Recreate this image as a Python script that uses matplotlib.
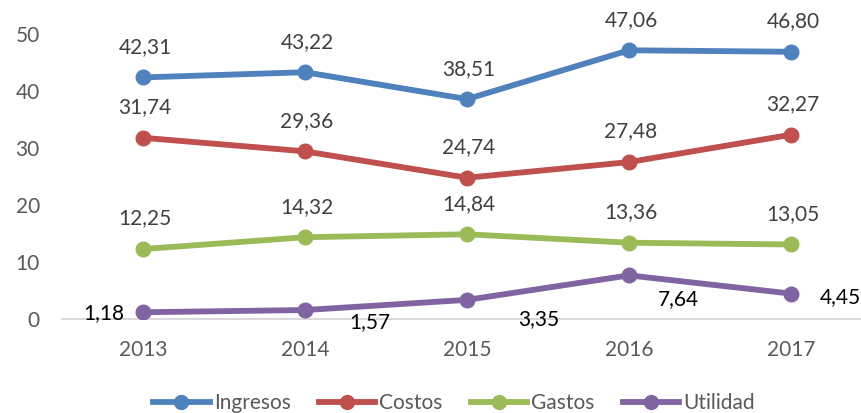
import matplotlib
matplotlib.use("Agg")
import matplotlib.pyplot as plt
from matplotlib.lines import Line2D

plt.rcParams['font.family'] = ['Lato', 'DejaVu Sans']

# ---- data ----
years = ["2013", "2014", "2015", "2016", "2017"]
ingresos = [42.31, 43.22, 38.51, 47.06, 46.80]
costos = [31.74, 29.36, 24.74, 27.48, 32.27]
gastos = [12.25, 14.32, 14.84, 13.36, 13.05]
utilidad = [1.18, 1.57, 3.35, 7.64, 4.45]
series_names = ["Ingresos", "Costos", "Gastos", "Utilidad"]
y_ticks = [0, 10, 20, 30, 40, 50]

# ---- style ----
colors = ["#4F81BD", "#C0504D", "#9BBB59", "#8064A2"]
label_colors = ["#404040", "#404040", "#404040", "#000000"]
# label center offsets in pixels (dx, dy up) for Utilidad labels
util_offsets = [(-39, 1), (65, -11), (72, -18), (49, -22), (49, -2)]

W, H = 862, 413
fig = plt.figure(figsize=(W / 100, H / 100), dpi=100)
ax = fig.add_axes([62 / W, (H - 319) / H, 810 / W, 285.5 / H])

x = list(range(len(years)))
all_series = [ingresos, costos, gastos, utilidad]
for i, (vals, name) in enumerate(zip(all_series, series_names)):
    ax.plot(x, vals, color=colors[i], lw=4.2, marker='o', ms=10.5,
            solid_capstyle='round', solid_joinstyle='round', label=name, zorder=3)
    for j, v in enumerate(vals):
        txt = f"{v:.2f}".replace(".", ",")
        if i < 3:
            dx, dy = 2, 32
        else:
            dx, dy = util_offsets[j]
        ax.annotate(txt, (j, v), xytext=(dx, dy - 7.5), textcoords='offset pixels',
                    ha='center', va='baseline', fontsize=15, color=label_colors[i],
                    zorder=4)

ax.set_xlim(-0.5, len(years) - 0.5)
ax.set_ylim(0, 50)
ax.set_xticks(x)
ax.set_xticklabels(years)
ax.set_yticks(y_ticks)
ax.set_yticklabels([str(t) for t in y_ticks])
ax.tick_params(axis='both', length=0, labelsize=15, labelcolor='#595959')
ax.tick_params(axis='y', pad=16)
ax.tick_params(axis='x', pad=15)
for s in ['top', 'right', 'left']:
    ax.spines[s].set_visible(False)
ax.spines['bottom'].set_color('#D9D9D9')
ax.spines['bottom'].set_linewidth(1.5)
ax.spines['bottom'].set_zorder(1)

handles = [Line2D([], [], color=c, lw=4.2, marker='o', ms=10) for c in colors]
leg = fig.legend(handles, series_names, loc='center', bbox_to_anchor=(454 / W, (H - 403) / H),
                 ncol=4, frameon=False, fontsize=15, handlelength=2.7, handletextpad=0.2,
                 columnspacing=1.35, labelcolor='#595959', borderaxespad=0, borderpad=0)

fig.savefig("out.png", dpi=100)
